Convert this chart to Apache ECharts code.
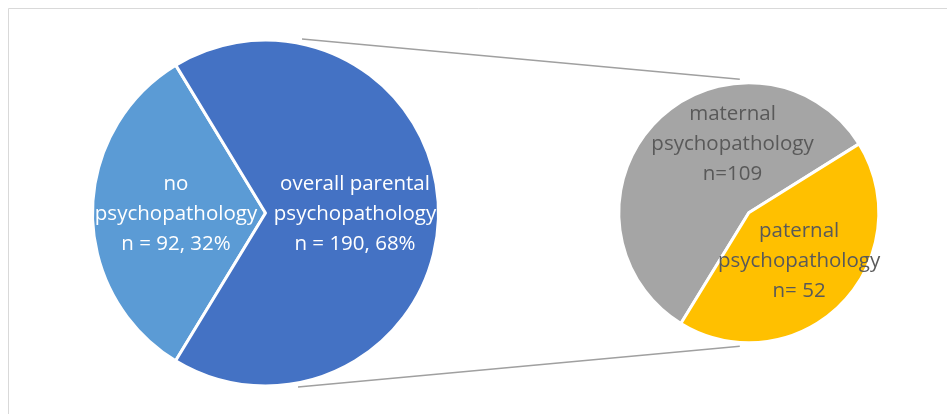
<!DOCTYPE html>
<html>
<head>
<meta charset="utf-8">
<script src="https://cdn.jsdelivr.net/npm/echarts@6/dist/echarts.min.js"></script>
<style>
  html, body { margin: 0; padding: 0; background: #fff; }
  #chart { width: 947px; height: 414px; }
</style>
</head>
<body>
<div id="chart"></div>
<script>
// primary pie
var mainNames = ['no psychopathology', 'overall parental psychopathology']
var mainValues = [92, 190]
var mainLabels = ['no\npsychopathology\nn = 92, 32%', 'overall parental\npsychopathology\nn = 190, 68%']

// secondary pie (split of the 190)
var subNames = ['maternal psychopathology', 'paternal psychopathology']
var subValues = [109, 81]
var subLabels = ['maternal\npsychopathology\nn=109', 'paternal\npsychopathology\nn= 52']

// layout
var leftC = [265.5, 213], leftR = 173
var rightC = [748.8, 212.7], rightR = 130

var chart = echarts.init(document.getElementById('chart'))

var labelFont = {
  fontFamily: '"Open Sans", sans-serif',
  fontSize: 20.5,
  lineHeight: 30
}

var option = {
  animation: false,
  backgroundColor: '#fff',
  graphic: [
    {
      type: 'rect',
      shape: { x: 8.5, y: 8.5, width: 960, height: 430 },
      style: { fill: 'none', stroke: '#d9d9d9', lineWidth: 1 },
      silent: true
    },
    {
      type: 'line',
      shape: { x1: leftC[0] + 36.5, y1: leftC[1] - leftR - 1, x2: rightC[0] - 9, y2: rightC[1] - rightR - 3.5 },
      style: { stroke: '#a0a0a0', lineWidth: 1.5 },
      silent: true
    },
    {
      type: 'line',
      shape: { x1: leftC[0] + 32.5, y1: leftC[1] + leftR + 1, x2: rightC[0] - 9, y2: rightC[1] + rightR + 3.5 },
      style: { stroke: '#a0a0a0', lineWidth: 1.5 },
      silent: true
    }
  ],
  series: [
    {
      type: 'pie',
      center: leftC,
      radius: [0, leftR],
      startAngle: 238.7,
      clockwise: true,
      silent: true,
      itemStyle: { borderColor: '#fff', borderWidth: 3 },
      label: Object.assign({ show: true, position: 'inside', color: '#fff' }, labelFont),
      labelLine: { show: false },
      data: mainNames.map(function (n, i) {
        return {
          name: n,
          value: mainValues[i],
          itemStyle: { color: ['#5b9bd5', '#4472c4'][i] },
          label: { formatter: mainLabels[i], offset: [0, 1] }
        }
      })
    },
    {
      type: 'pie',
      center: rightC,
      radius: [0, rightR],
      startAngle: 238.5,
      clockwise: true,
      silent: true,
      itemStyle: { borderColor: '#fff', borderWidth: 3 },
      label: Object.assign({ show: true, position: 'inside', color: '#595959' }, labelFont),
      labelLine: { show: false },
      data: subNames.map(function (n, i) {
        return {
          name: n,
          value: subValues[i],
          itemStyle: { color: ['#a5a5a5', '#ffc000'][i] },
          label: { formatter: subLabels[i], offset: [[32, -21], [2, 1]][i] }
        }
      })
    }
  ]
}

chart.setOption(option)
</script>
</body>
</html>
